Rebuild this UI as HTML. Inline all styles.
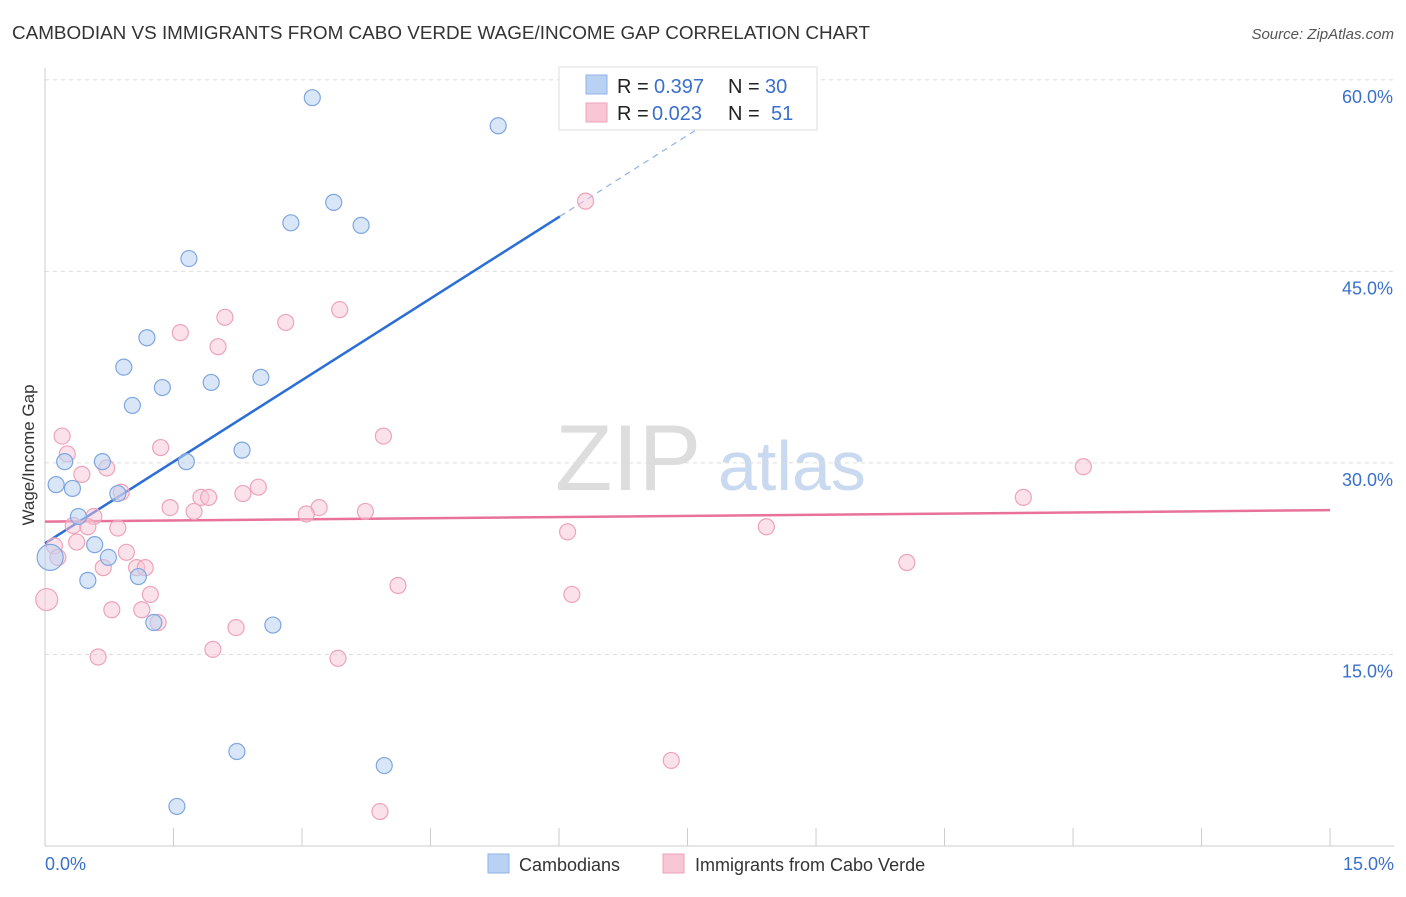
<!DOCTYPE html>
<html><head><meta charset="utf-8"><style>
body{margin:0;background:#fff;font-family:"Liberation Sans",sans-serif}
svg text{font-family:"Liberation Sans",sans-serif}
</style></head><body>
<svg width="1406" height="892">
<text x="12" y="39" font-size="18" fill="#333" textLength="858" lengthAdjust="spacingAndGlyphs">CAMBODIAN VS IMMIGRANTS FROM CABO VERDE WAGE/INCOME GAP CORRELATION CHART</text>
<text x="1394" y="39" font-size="15" fill="#555" text-anchor="end" font-style="italic">Source: ZipAtlas.com</text>
<text x="555" y="490" font-size="94" fill="#ddd" font-family="Liberation Serif">ZIP</text>
<text x="718" y="490" font-size="70" fill="#c9d9ef">atlas</text>
<g id="grid"></g><g id="axes"></g><g id="lines"></g><g id="pts"></g>
<g>
<rect x="559" y="67" width="258" height="63" fill="#fff" stroke="#ddd"/>
<rect x="586" y="75" width="21" height="19" fill="#b9d1f3" stroke="#8fb2e6"/>
<rect x="586" y="103" width="21" height="19" fill="#f8c6d5" stroke="#eea3ba"/>
<text x="617" y="93" font-size="20" fill="#222">R =</text>
<text x="654" y="93" font-size="20" fill="#3a70cc">0.397</text>
<text x="728" y="93" font-size="20" fill="#222">N =</text>
<text x="765" y="93" font-size="20" fill="#3a70cc">30</text>
<text x="617" y="120" font-size="20" fill="#222">R =</text>
<text x="652" y="120" font-size="20" fill="#3a70cc">0.023</text>
<text x="728" y="120" font-size="20" fill="#222">N =</text>
<text x="771" y="120" font-size="20" fill="#3a70cc">51</text>
</g>
<text x="34" y="455" font-size="17" fill="#333" transform="rotate(-90 34 455)" text-anchor="middle">Wage/Income Gap</text>
<text x="45" y="870" font-size="18" fill="#3a70cc">0.0%</text>
<text x="1394" y="870" font-size="18" fill="#3a70cc" text-anchor="end">15.0%</text>
<g>
<rect x="488" y="854" width="21" height="19" fill="#b9d1f3" stroke="#8fb2e6"/>
<text x="519" y="871" font-size="18" fill="#333">Cambodians</text>
<rect x="663" y="854" width="21" height="19" fill="#f8c6d5" stroke="#eea3ba"/>
<text x="695" y="871" font-size="18" fill="#333">Immigrants from Cabo Verde</text>
</g>
</svg>
<script>
const yTicks=[15,30,45,60];
const xTicks=[0,1.5,3,4.5,6,7.5,9,10.5,12,13.5,15];
const blueX=[3.12,5.29,3.37,2.87,3.69,1.68,1.19,0.92,1.94,2.52,1.37,1.02,2.30,0.23,0.67,1.65,0.13,0.32,0.85,0.39,0.58,0.74,0.06,0.50,1.09,1.27,2.66,2.24,3.96,1.54];
const blueY=[58.6,56.4,50.4,48.8,48.6,46.0,39.8,37.5,36.3,36.7,35.9,34.5,31.0,30.1,30.1,30.1,28.3,28.0,27.6,25.8,23.6,22.6,22.6,20.8,21.1,17.5,17.3,7.4,6.3,3.1];
const pinkX=[6.31,3.44,2.10,2.81,1.58,2.02,0.20,3.95,1.35,0.26,0.72,0.43,12.12,2.49,0.89,2.31,1.82,1.91,11.42,1.46,3.20,1.74,3.05,3.74,0.57,0.33,0.50,0.85,8.42,6.10,0.37,0.11,0.15,0.95,10.06,0.68,1.07,1.17,4.12,1.23,6.15,0.02,0.78,1.13,1.32,2.23,1.96,0.62,3.42,7.31,3.91];
const pinkY=[50.5,42.0,41.4,41.0,40.2,39.1,32.1,32.1,31.2,30.7,29.6,29.1,29.7,28.1,27.7,27.6,27.3,27.3,27.3,26.5,26.5,26.2,26.0,26.2,25.8,25.1,25.0,24.9,25.0,24.6,23.8,23.5,22.6,23.0,22.2,21.8,21.8,21.8,20.4,19.7,19.7,19.3,18.5,18.5,17.5,17.1,15.4,14.8,14.7,6.7,2.7];
const blueTrend=[23.7,4.26];const pinkTrend=[25.4,0.06];
const sx=v=>45+v*85.67, sy=v=>846-v*12.77;
const NS='http://www.w3.org/2000/svg';
function mk(t,a,p){const e=document.createElementNS(NS,t);for(const k in a)e.setAttribute(k,a[k]);document.getElementById(p).appendChild(e);return e;}
yTicks.forEach(t=>{const l=mk('line',{x1:45,x2:1394,y1:sy(t),y2:sy(t),stroke:'#ddd','stroke-dasharray':'4,4'},'grid');


const tx=mk('text',{x:1393,y:sy(t)+23,'font-size':18,fill:'#3a70cc','text-anchor':'end'},'grid');tx.textContent=t.toFixed(1)+'%';

});
const ax=mk('line',{x1:45,x2:45,y1:68,y2:846,stroke:'#ccc'},'axes');


const bx=mk('line',{x1:45,x2:1394,y1:846,y2:846,stroke:'#ccc'},'axes');


xTicks.forEach(t=>{const l=mk('line',{x1:sx(t),x2:sx(t),y1:828,y2:846,stroke:'#ccc'},'axes');

});
const b1=mk('line',{x1:sx(0),y1:sy(blueTrend[0]),x2:sx(6.01),y2:sy(blueTrend[0]+blueTrend[1]*6.01),stroke:'#2b6fd6','stroke-width':2.5},'lines');


const b2=mk('line',{x1:sx(6.01),y1:sy(blueTrend[0]+blueTrend[1]*6.01),x2:sx(8.4),y2:sy(blueTrend[0]+blueTrend[1]*8.4),stroke:'#8fb2e6','stroke-width':1.2,'stroke-dasharray':'6,5'},'lines');


const p1=mk('line',{x1:sx(0),y1:sy(pinkTrend[0]),x2:sx(15),y2:sy(pinkTrend[0]+pinkTrend[1]*15),stroke:'#e8729a','stroke-width':2.5},'lines');


pinkX.forEach((x,i)=>{const c=mk('circle',{cx:sx(x),cy:sy(pinkY[i]),r:(i==41?11:8),fill:'rgba(248,198,213,0.5)',stroke:'#eea3ba','stroke-width':1.2},'pts');

});
blueX.forEach((x,i)=>{const c=mk('circle',{cx:sx(x),cy:sy(blueY[i]),r:(i==22?13:8),fill:'rgba(185,209,243,0.55)',stroke:'#7fa6e0','stroke-width':1.2},'pts');

});
</script>
</body></html>
